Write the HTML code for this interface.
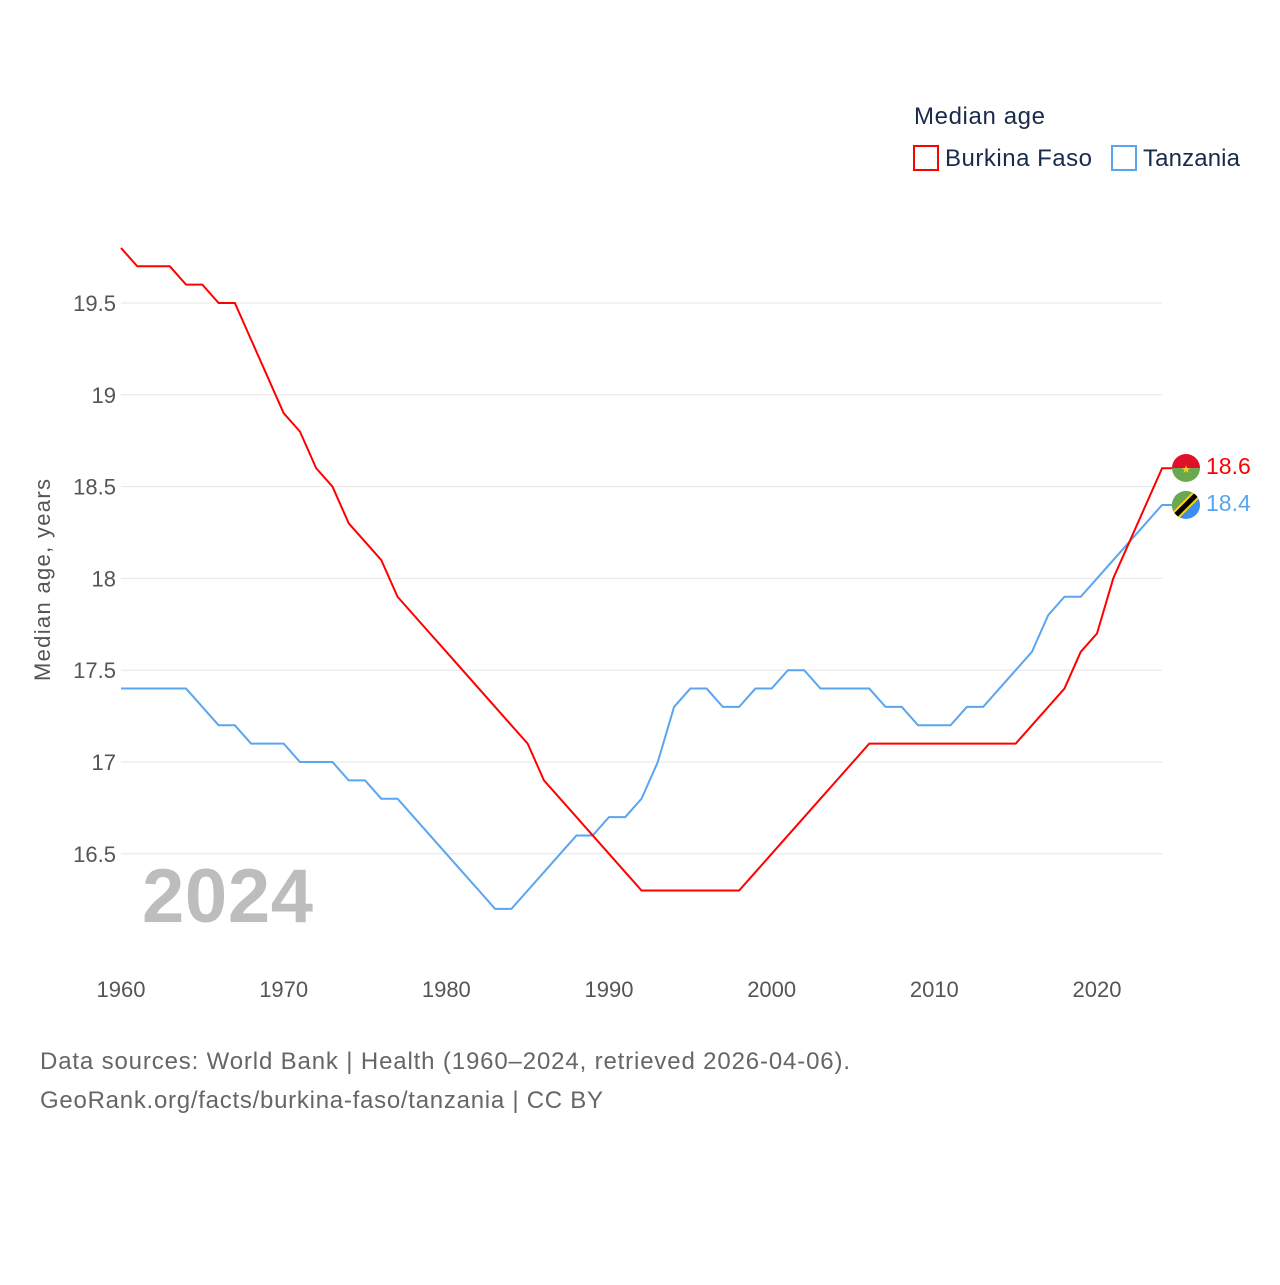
<!DOCTYPE html>
<html><head><meta charset="utf-8">
<style>
body{margin:0;background:#fff;font-family:"Liberation Sans",sans-serif;}
svg text{font-family:"Liberation Sans",sans-serif;}
</style></head>
<body>
<svg id="chart" width="1280" height="1280" viewBox="0 0 1280 1280" xmlns="http://www.w3.org/2000/svg">
<g id="grid"></g>
<g id="yticks"></g>
<g id="xticks"></g>
<text x="50" y="580" transform="rotate(-90 50 580)" text-anchor="middle" font-size="22" fill="#555" textLength="202">Median age, years</text>
<text x="142" y="922" font-size="76" font-weight="bold" fill="#bdbdbd" textLength="171">2024</text>
<g id="lines"></g>
<g>
<text x="914" y="124" font-size="24" fill="#1a2a4a" textLength="131">Median age</text>
<g><rect x="914" y="146" width="24" height="24" fill="none" stroke="#f00" stroke-width="2"/><text x="945" y="166" font-size="24" fill="#1a2a4a" textLength="147">Burkina Faso</text></g>
<g><rect x="1112" y="146" width="24" height="24" fill="none" stroke="#5aa5f0" stroke-width="2"/><text x="1143" y="166" font-size="24" fill="#1a2a4a" textLength="97">Tanzania</text></g>
</g>
<g>
<clipPath id="c1"><circle cx="1186" cy="468" r="14"/></clipPath>
<g clip-path="url(#c1)"><rect x="1172" y="454" width="28" height="14" fill="#e0102a"/><rect x="1172" y="468" width="28" height="14" fill="#6aa84f"/></g>
<text x="1186" y="473" font-size="11" fill="#fcd116" text-anchor="middle">★</text>
</g>
<g>
<clipPath id="c2"><circle cx="1186" cy="505" r="14"/></clipPath>
<g clip-path="url(#c2)"><rect x="1172" y="491" width="28" height="28" fill="#3a8ef0"/><polygon points="1172,491 1200,491 1172,519" fill="#6aa84f"/><line x1="1172" y1="519" x2="1200" y2="491" stroke="#fcd116" stroke-width="9"/><line x1="1172" y1="519" x2="1200" y2="491" stroke="#000" stroke-width="5"/></g>
</g>
<text x="1206" y="474" font-size="23" fill="#f00">18.6</text>
<text x="1206" y="511" font-size="23" fill="#5aa5f0">18.4</text>
<text x="40" y="1069" font-size="24" fill="#666" textLength="810">Data sources: World Bank | Health (1960–2024, retrieved 2026-04-06).</text>
<text x="40" y="1108" font-size="24" fill="#666" textLength="563">GeoRank.org/facts/burkina-faso/tanzania | CC BY</text>
</svg>
<script>
const startYear = 1960;
const burkina = [198,197,197,197,196,196,195,195,193,191,189,188,186,185,183,182,181,179,178,177,176,175,174,173,172,171,169,168,167,166,165,164,163,163,163,163,163,163,163,164,165,166,167,168,169,170,171,171,171,171,171,171,171,171,171,171,172,173,174,176,177,180,182,184,186];
const tanzania = [174,174,174,174,174,173,172,172,171,171,171,170,170,170,169,169,168,168,167,166,165,164,163,162,162,163,164,165,166,166,167,167,168,170,173,174,174,173,173,174,174,175,175,174,174,174,174,173,173,172,172,172,173,173,174,175,176,178,179,179,180,181,182,183,184];
const yTicks = [16.5,17,17.5,18,18.5,19,19.5];
const xTicks = [1960,1970,1980,1990,2000,2010,2020];
const NS="http://www.w3.org/2000/svg";
function xs(yr){return 121+(yr-1960)*(1097-121)/60;}
function ys(v){return 762-(v-17)*(762-303)/2.5;}
const grid=document.getElementById('grid'),yt=document.getElementById('yticks'),xt=document.getElementById('xticks'),lines=document.getElementById('lines');
yTicks.forEach(v=>{
  const l=document.createElementNS(NS,'line');
  l.setAttribute('x1',121);l.setAttribute('x2',1162);l.setAttribute('y1',ys(v));l.setAttribute('y2',ys(v));
  l.setAttribute('stroke','#e6e6e6');l.setAttribute('stroke-width','1');
  
  
  grid.appendChild(l);
  const t=document.createElementNS(NS,'text');
  t.setAttribute('x',116);t.setAttribute('y',ys(v)+8);t.setAttribute('text-anchor','end');t.setAttribute('font-size','22');t.setAttribute('fill','#555');
  t.textContent=String(v);
  
  
  yt.appendChild(t);
});
xTicks.forEach(v=>{
  const t=document.createElementNS(NS,'text');
  t.setAttribute('x',xs(v));t.setAttribute('y',997);t.setAttribute('text-anchor','middle');t.setAttribute('font-size','22');t.setAttribute('fill','#555');
  t.textContent=String(v);
  
  
  xt.appendChild(t);
});
function draw(arr,color,name){
  const p=document.createElementNS(NS,'polyline');
  p.setAttribute('points',arr.map((v,i)=>xs(startYear+i)+','+ys(v/10)).join(' ')+' '+(xs(startYear+arr.length-1)+10)+','+ys(arr[arr.length-1]/10));
  p.setAttribute('fill','none');p.setAttribute('stroke',color);p.setAttribute('stroke-width','2');
  
  
  lines.appendChild(p);
}
draw(tanzania,'#5aa5f0','tanzania-line');
draw(burkina,'#ff0000','burkina-faso-line');
</script>
</body></html>
